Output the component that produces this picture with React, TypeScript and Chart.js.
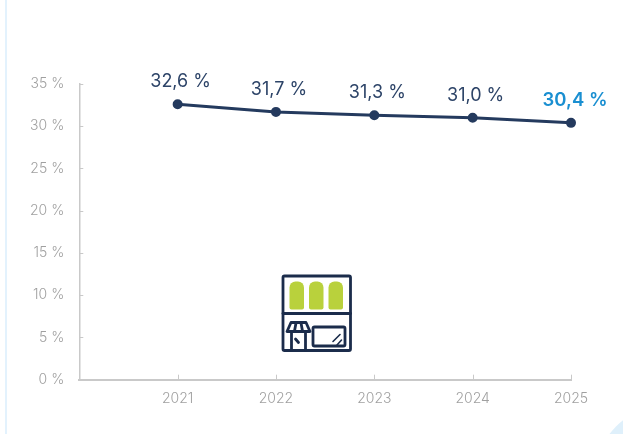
import React, { useEffect, useRef } from "react";
import { Chart, registerables } from "chart.js";

Chart.register(...registerables);

const years = ["", "2021", "2022", "2023", "2024", "2025"];
const shares = [null, 32.6, 31.7, 31.3, 31.0, 30.4];
const valueLabels = ["", "32,6 %", "31,7 %", "31,3 %", "31,0 %", "30,4 %"];
const FONT = "Inter, sans-serif";
const NAVY = "#243a5e";
const AXIS = "#c9c9c9";
const TICK_TEXT = "#a0a0a0";

function roundedRect(ctx: CanvasRenderingContext2D, x: number, y: number, w: number, h: number, r: number) {
  ctx.beginPath();
  ctx.roundRect(x, y, w, h, r);
}

// Shop-front pictogram that sits above the axis.
const shopIcon = {
  id: "shopIcon",
  afterDraw(chart: Chart) {
    const { ctx } = chart;
    ctx.save();
    ctx.strokeStyle = "#1b2c4b";
    ctx.lineWidth = 2.8;
    ctx.lineJoin = "round";
    ctx.lineCap = "round";
    ctx.fillStyle = "#b9d13c";
    [289.5, 309, 328.5].forEach((x) => {
      ctx.beginPath();
      ctx.roundRect(x, 281.5, 14.5, 28, [6, 6, 2, 2]);
      ctx.fill();
    });
    roundedRect(ctx, 283, 276, 67.5, 74.5, 1.5);
    ctx.stroke();
    ctx.beginPath();
    ctx.moveTo(283, 313.5);
    ctx.lineTo(350.5, 313.5);
    ctx.stroke();
    // awning
    ctx.beginPath();
    ctx.moveTo(291, 322.5);
    ctx.lineTo(306, 322.5);
    ctx.lineTo(310, 331.5);
    ctx.lineTo(287, 331.5);
    ctx.closePath();
    ctx.stroke();
    ctx.beginPath();
    ctx.moveTo(296, 323); ctx.lineTo(294.5, 331);
    ctx.moveTo(301, 323); ctx.lineTo(302.5, 331);
    // door frame below the awning
    ctx.moveTo(291.5, 333); ctx.lineTo(291.5, 350);
    ctx.moveTo(305.5, 333); ctx.lineTo(305.5, 350);
    ctx.moveTo(295.5, 339); ctx.lineTo(298.5, 342.5);
    ctx.stroke();
    // display window
    roundedRect(ctx, 313, 327, 32, 19, 1.5);
    ctx.stroke();
    ctx.lineWidth = 1.6;
    ctx.beginPath();
    ctx.moveTo(333, 341.5); ctx.lineTo(340, 334.5);
    ctx.moveTo(337, 345); ctx.lineTo(341.5, 340);
    ctx.stroke();
    ctx.restore();
  },
};

// Axis ticks point into the plot area.
const inwardTicks = {
  id: "inwardTicks",
  afterDraw(chart: Chart) {
    const { ctx, chartArea } = chart;
    const { x, y } = chart.scales;
    ctx.save();
    ctx.strokeStyle = AXIS;
    ctx.lineWidth = 1;
    ctx.beginPath();
    x.ticks.forEach((_, i) => {
      if (i === 0) return;
      const px = Math.round(x.getPixelForTick(i)) + 0.5;
      ctx.moveTo(px, chartArea.bottom);
      ctx.lineTo(px, chartArea.bottom - 5);
    });
    y.ticks.forEach((_, i) => {
      const py = Math.round(y.getPixelForTick(i)) + 0.5;
      ctx.moveTo(chartArea.left, py);
      ctx.lineTo(chartArea.left + 4, py);
    });
    ctx.stroke();
    ctx.restore();
  },
};

// Value captions above each point; the latest year is highlighted.
const valueCaptions = {
  id: "valueCaptions",
  afterDatasetsDraw(chart: Chart) {
    const { ctx } = chart;
    const points = chart.getDatasetMeta(0).data;
    ctx.save();
    ctx.textAlign = "center";
    ctx.textBaseline = "alphabetic";
    valueLabels.forEach((text, i) => {
      if (!text) return;
      const last = i === valueLabels.length - 1;
      ctx.font = `${last ? 600 : 400} ${last ? 18.5 : 18}px ${FONT}`;
      ctx.fillStyle = last ? "#1a8fd1" : "#2d4468";
      ctx.fillText(text, points[i].x + (last ? 4 : 3), points[i].y - 17);
    });
    ctx.restore();
  },
};

export default function App() {
  const ref = useRef<HTMLCanvasElement>(null);

  useEffect(() => {
    if (!ref.current) return;
    const chart = new Chart(ref.current, {
      type: "line",
      data: {
        labels: years,
        datasets: [
          {
            data: shares,
            borderColor: NAVY,
            backgroundColor: NAVY,
            borderWidth: 3,
            pointRadius: 3.5,
            pointHoverRadius: 3.5,
            tension: 0,
          },
        ],
      },
      plugins: [inwardTicks, valueCaptions, shopIcon],
      options: {
        animation: false,
        responsive: false,
        layout: { padding: { left: 23, right: 52, top: 84, bottom: 24.5 } },
        plugins: { legend: { display: false }, tooltip: { enabled: false } },
        scales: {
          x: {
            offset: false,
            grid: { display: false },
            border: { color: AXIS, width: 2 },
            ticks: { color: TICK_TEXT, font: { family: FONT, size: 14, weight: 300 }, padding: 2.5, maxRotation: 0 },
          },
          y: {
            min: 0,
            max: 35,
            grid: { display: false },
            border: { color: AXIS, width: 1.5 },
            ticks: {
              stepSize: 5,
              color: TICK_TEXT,
              font: { family: FONT, size: 14, weight: 300 },
              padding: 7,
              callback: (v) => `${v} %`,
            },
          },
        },
      },
    });
    return () => chart.destroy();
  }, []);

  return (
    <div style={{ position: "fixed", inset: 0, background: "#ffffff", overflow: "hidden" }}>
      <div style={{ position: "absolute", left: 5, top: 0, width: 2, height: 434, background: "#e3f2fd" }} />
      <div
        style={{
          position: "absolute",
          left: 594,
          top: 404,
          width: 152,
          height: 152,
          borderRadius: "50%",
          background: "#dff0fb",
        }}
      />
      <canvas ref={ref} width={623} height={434} style={{ position: "absolute", left: 0, top: 0 }} />
    </div>
  );
}
